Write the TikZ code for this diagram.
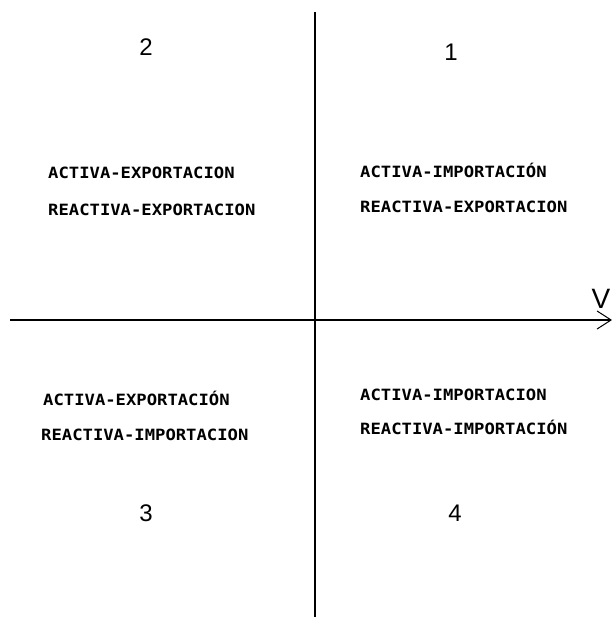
\documentclass[tikz,border=0pt]{standalone}
\usepackage{fontspec}
\setmainfont{Liberation Sans}
\newfontfamily\cadfont{DejaVu Sans Mono}
\usetikzlibrary{arrows.meta}
\begin{document}
\begin{tikzpicture}[x=1pt,y=-1pt,
  axis/.style={line width=1.2pt,black},
  label/.style={anchor=west,inner sep=0pt,font=\cadfont\bfseries\fontsize{15.5}{15.5}\selectfont,xscale=1.11},
  num/.style={inner sep=0pt,font=\fontsize{24}{24}\selectfont},
]
\useasboundingbox[fill=white] (0,0) rectangle (613,617);
\coordinate (vtop) at (315,12);
\coordinate (vbot) at (315,617);
\coordinate (hl) at (10,320);
\coordinate (hr) at (612,320);
\draw[axis] (vtop) -- (vbot);
\draw[axis,-{Straight Barb[length=14pt,width=18pt,line width=1pt]}] (hl) -- (hr);
\node[num,font=\fontsize{28}{28}\selectfont] (vlab) at (601,299) {V};
\node[num] (n2) at (146,47) {2};
\node[num] (n1) at (451,52) {1};
\node[num] (n3) at (146,513) {3};
\node[num] (n4) at (455,513) {4};
\node[label] (q2a) at (48,173) {ACTIVA-EXPORTACION};
\node[label] (q2b) at (48,210) {REACTIVA-EXPORTACION};
\node[label] (q1a) at (360,170) {ACTIVA-IMPORTACIÓN};
\node[label] (q1b) at (360,207) {REACTIVA-EXPORTACION};
\node[label] (q3a) at (43,398) {ACTIVA-EXPORTACIÓN};
\node[label] (q3b) at (41,435) {REACTIVA-IMPORTACION};
\node[label] (q4a) at (360,395) {ACTIVA-IMPORTACION};
\node[label] (q4b) at (360,427) {REACTIVA-IMPORTACIÓN};
\end{tikzpicture}
\end{document}
